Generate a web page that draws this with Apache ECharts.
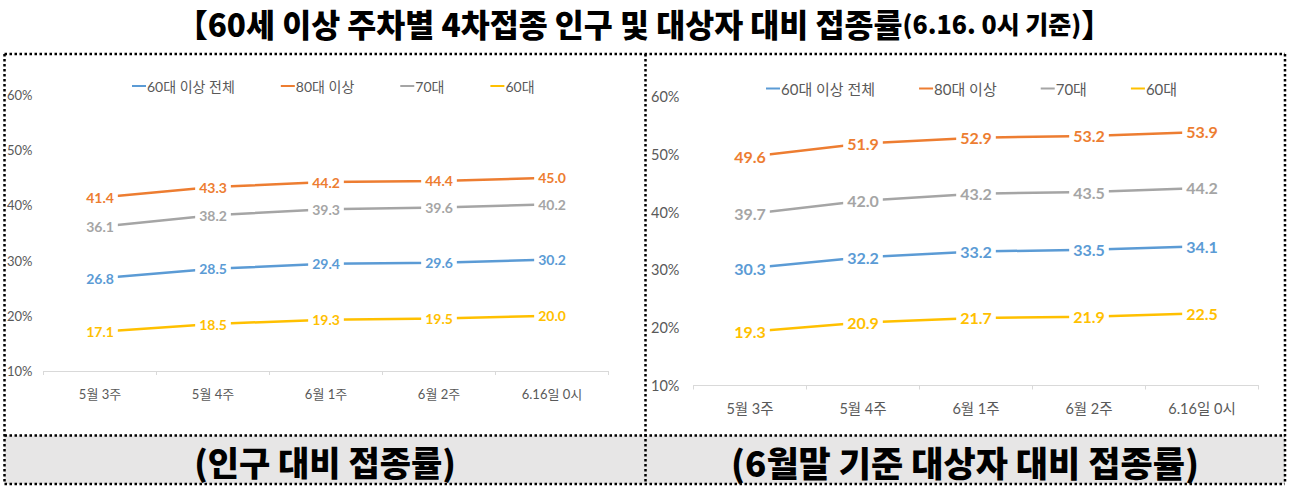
<!DOCTYPE html>
<html>
<head>
<meta charset="utf-8">
<script src="https://cdn.jsdelivr.net/npm/echarts@6/dist/echarts.min.js"></script>
<style>
html,body{margin:0;padding:0;background:#fff;}
#c{width:1289px;height:493px;}
</style>
</head>
<body>
<div id="c"></div>
<script>
const categories = ['5월 3주', '5월 4주', '6월 1주', '6월 2주', '6.16일 0시'];
const seriesNames = ['60대 이상 전체', '80대 이상', '70대', '60대'];
const colors = ['#5B9BD5', '#ED7D31', '#A5A5A5', '#FFC000'];
const yTicks = [10, 20, 30, 40, 50, 60];

// 인구 대비 접종률
const popAll = [26.8, 28.5, 29.4, 29.6, 30.2];
const pop80 = [41.4, 43.3, 44.2, 44.4, 45.0];
const pop70 = [36.1, 38.2, 39.3, 39.6, 40.2];
const pop60 = [17.1, 18.5, 19.3, 19.5, 20.0];

// 6월말 기준 대상자 대비 접종률
const tgtAll = [30.3, 32.2, 33.2, 33.5, 34.1];
const tgt80 = [49.6, 51.9, 52.9, 53.2, 53.9];
const tgt70 = [39.7, 42.0, 43.2, 43.5, 44.2];
const tgt60 = [19.3, 20.9, 21.7, 21.9, 22.5];

const titleMain = '【60세 이상 주차별 4차접종 인구 및 대상자 대비 접종률';
const titleSub = '(6.16. 0시 기준)';
const leftCaption = '(인구 대비 접종률)';
const rightCaption = '(6월말 기준 대상자 대비 접종률)';

const FONT = "Lato, 'Noto Sans CJK KR', sans-serif";
const KFONT = "'Noto Sans CJK KR', sans-serif";

function mkSeries(idx, datasets, labelSize) {
  return datasets.map((d, i) => ({
    name: seriesNames[i],
    type: 'line',
    xAxisIndex: idx, yAxisIndex: idx,
    data: d,
    symbol: 'circle', symbolSize: 1,
    lineStyle: {color: colors[i], width: 2.5},
    itemStyle: {color: colors[i]},
    silent: true,
    animation: false,
    label: {
      show: true, position: 'inside',
      formatter: p => p.value.toFixed(1),
      color: colors[i], fontFamily: FONT, fontWeight: 'bold', fontSize: labelSize,
      backgroundColor: '#fff', padding: [1, 4]
    },
    emphasis: {disabled: true}
  }));
}

function xAx(idx, fs) {
  return {
    type: 'category', gridIndex: idx, data: categories, boundaryGap: true,
    axisLine: {lineStyle: {color: '#D9D9D9', width: 1}},
    axisTick: {show: true, length: 4, lineStyle: {color: '#D9D9D9'}},
    axisLabel: {color: '#595959', fontFamily: FONT, fontSize: fs, margin: 16}
  };
}
function yAx(idx, fs, margin) {
  return {
    type: 'value', gridIndex: idx, min: yTicks[0], max: yTicks[yTicks.length - 1], interval: 10,
    axisLine: {show: false}, axisTick: {show: false}, splitLine: {show: false},
    axisLabel: {color: '#595959', fontFamily: FONT, fontSize: fs, margin: margin, formatter: '{value}%'}
  };
}

function legendAt(left, top, fs, gap) {
  return {
    left: left, top: top, itemWidth: 14, itemHeight: 2, itemGap: gap,
    icon: 'rect', selectedMode: false,
    data: seriesNames.map((n, i) => ({name: n, itemStyle: {color: colors[i]}})),
    textStyle: {color: '#595959', fontFamily: FONT, fontSize: fs, padding: [0, 0, 0, -4]}
  };
}

const dot = {stroke: '#000', lineWidth: 2.5, lineDash: [2.5, 2.5]};
function hline(x1, x2, y) { return {type: 'line', shape: {x1, y1: y, x2, y2: y}, style: dot, z: 100}; }
function vline(x, y1, y2) { return {type: 'line', shape: {x1: x, y1, x2: x, y2}, style: dot, z: 100}; }

const chart = echarts.init(document.getElementById('c'), null, {renderer: 'svg'});
chart.setOption({
  animation: false,
  backgroundColor: '#fff',
  title: {
    left: 'center', top: 2,
    text: '{a|' + titleMain + '}{b|' + titleSub + '}{a|】}',
    textStyle: {
      rich: {
        a: {fontFamily: KFONT, fontWeight: 900, fontSize: 31.5, color: '#000'},
        b: {fontFamily: KFONT, fontWeight: 900, fontSize: 25, color: '#000'}
      }
    }
  },
  legend: [legendAt(127, 74, 14, 46), legendAt(761, 76, 15, 44)],
  grid: [
    {left: 43.5, width: 565, top: 94.8, height: 276.2},
    {left: 693.5, width: 565, top: 96.7, height: 288.8}
  ],
  xAxis: [xAx(0, 13), xAx(1, 14.5)],
  yAxis: [yAx(0, 13, 11), yAx(1, 14.5, 14)],
  series: mkSeries(0, [popAll, pop80, pop70, pop60], 14).concat(mkSeries(1, [tgtAll, tgt80, tgt70, tgt60], 16)),
  graphic: [
    {type: 'rect', shape: {x: 4.5, y: 435.5, width: 641, height: 48.5}, style: {fill: '#E7E6E6'}, z: 1},
    {type: 'rect', shape: {x: 645.5, y: 435.5, width: 639.5, height: 48.5}, style: {fill: '#E7E6E6'}, z: 1},
    {type: 'text', style: {text: leftCaption, x: 325, y: 461, textAlign: 'center', textVerticalAlign: 'middle',
      font: "900 34px 'Noto Sans CJK KR', sans-serif", fill: '#000'}, z: 2},
    {type: 'text', style: {text: rightCaption, x: 965, y: 461, textAlign: 'center', textVerticalAlign: 'middle',
      font: "900 35px 'Noto Sans CJK KR', sans-serif", fill: '#000'}, z: 2},
    hline(4.5, 1285, 54),
    hline(4.5, 1285, 435.5),
    hline(4.5, 1285, 484),
    vline(4.5, 54, 484),
    vline(645.5, 54, 484),
    vline(1285, 54, 484)
  ]
});
</script>
</body>
</html>
